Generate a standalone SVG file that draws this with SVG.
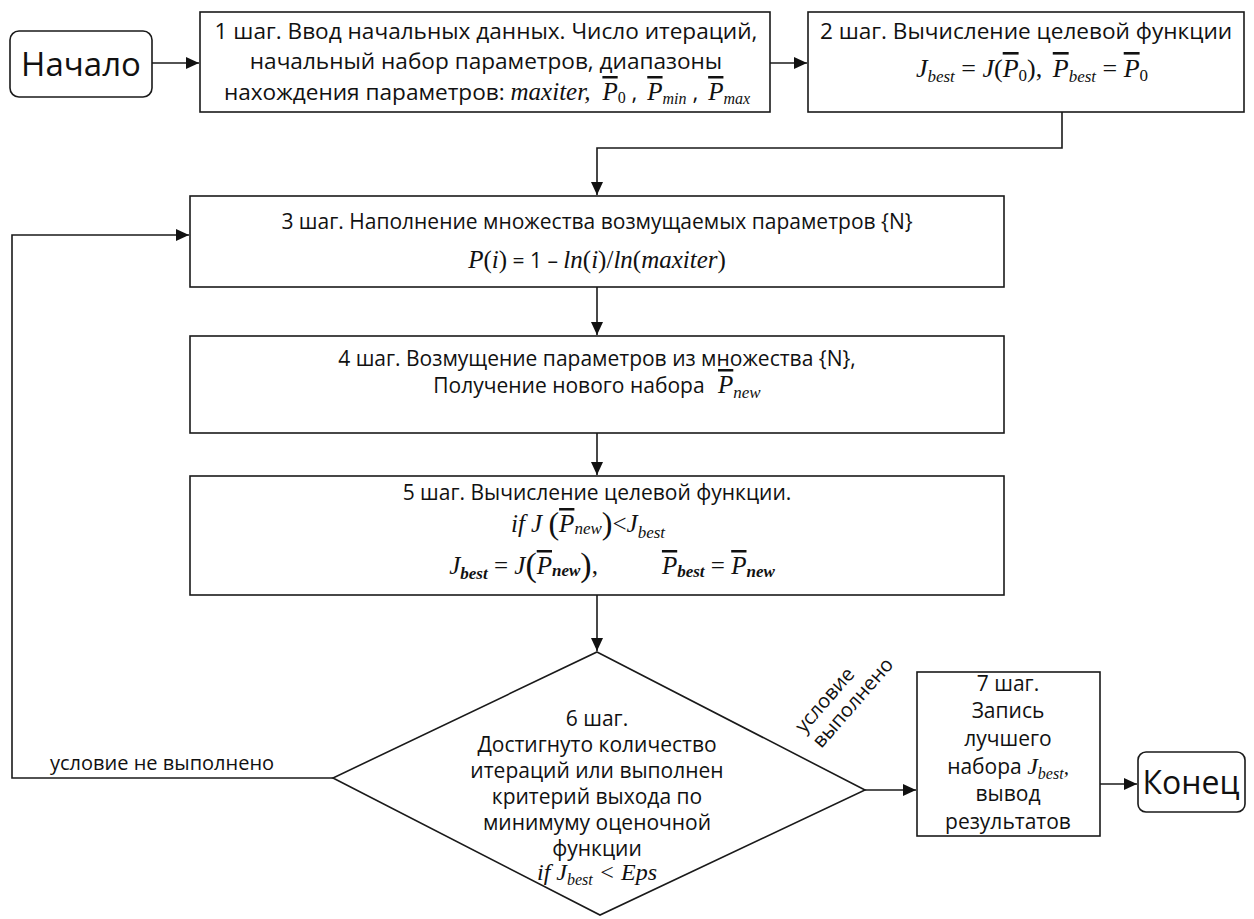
<svg xmlns="http://www.w3.org/2000/svg" width="1254" height="919" viewBox="0 0 1254 919">
<style>
.box{fill:#fff;stroke:#1a1a1a;stroke-width:1.6}
.t{font-family:"Open Sans","Liberation Sans",sans-serif;font-size:21px;fill:#111;text-anchor:middle}
.t2{font-size:22.6px}
.f{font-size:25px}
.big{font-family:"Open Sans","Liberation Sans",sans-serif;font-size:33px;fill:#111;text-anchor:middle}
.m{font-family:"Liberation Serif",serif;font-style:italic}
.r{font-family:"Liberation Serif",serif;font-style:normal}
.ov{text-decoration:overline}
.lbl{font-family:"Open Sans","Liberation Sans",sans-serif;font-size:20px;fill:#111}
.c{fill:none;stroke:#1a1a1a;stroke-width:1.6}
</style>
<defs>
<marker id="a" markerUnits="userSpaceOnUse" markerWidth="14" markerHeight="12" refX="13" refY="6" orient="auto">
<path d="M0,0 L13,6 L0,12 z" fill="#111"/>
</marker>
</defs>
<g id="connectors">
<path class="c" d="M152,63 H199" marker-end="url(#a)"/>
<path class="c" d="M770,63 H807" marker-end="url(#a)"/>
<path class="c" d="M1062,112 V148 H597 V195" marker-end="url(#a)"/>
<path class="c" d="M597,287 V335" marker-end="url(#a)"/>
<path class="c" d="M597,433 V475" marker-end="url(#a)"/>
<path class="c" d="M597,595 V651" marker-end="url(#a)"/>
<path class="c" d="M333,778 H12 V235 H189" marker-end="url(#a)"/>
<path class="c" d="M865,790 H916" marker-end="url(#a)"/>
<path class="c" d="M1100,784 H1137" marker-end="url(#a)"/>
<text class="lbl" x="50" y="770">условие не выполнено</text>
<g transform="translate(804,734) rotate(-49)">
<text class="lbl" x="0" y="0">условие</text>
<text class="lbl" x="0" y="23">выполнено</text>
</g>
</g>
<g id="start">
<rect class="box" x="10" y="31" width="142" height="66" rx="9"/>
<text class="big" x="81" y="76">Начало</text>
</g>
<g id="step1">
<rect class="box" x="200" y="12" width="570" height="100"/>
<text class="t t2" x="486" y="39">1 шаг. Ввод начальных данных. Число итераций,</text>
<text class="t t2" x="486" y="69">начальный набор параметров, диапазоны</text>
<text class="t t2" x="487" y="100">нахождения параметров: <tspan class="m" font-size="25">maxiter,</tspan><tspan class="m ov" font-size="25" dx="12">P</tspan><tspan class="r" font-size="16" dy="3">0</tspan><tspan dy="-3"> , </tspan><tspan class="m ov" font-size="25" dx="4">P</tspan><tspan class="m" font-size="16" dy="4">min</tspan><tspan dy="-4"> , </tspan><tspan class="m ov" font-size="25" dx="4">P</tspan><tspan class="m" font-size="16" dy="4">max</tspan></text>
</g>
<g id="step2">
<rect class="box" x="808" y="12" width="436" height="100"/>
<text class="t t2" x="1026" y="39">2 шаг. Вычисление целевой функции</text>
<text class="t" x="1032" y="77" style="font-size:26px"><tspan class="m">J</tspan><tspan class="m" font-size="17" dy="5">best</tspan><tspan class="r" dy="-5"> = </tspan><tspan class="m">J</tspan><tspan class="r">(</tspan><tspan class="m ov">P</tspan><tspan class="r" font-size="17" dy="4">0</tspan><tspan class="r" dy="-4">), </tspan><tspan class="m ov" dx="4">P</tspan><tspan class="m" font-size="17" dy="5">best</tspan><tspan class="r" dy="-5"> = </tspan><tspan class="m ov">P</tspan><tspan class="r" font-size="17" dy="4">0</tspan></text>
</g>
<g id="step3">
<rect class="box" x="190" y="196" width="814" height="91"/>
<text class="t" x="597" y="229">3 шаг.  Наполнение множества возмущаемых параметров {N}</text>
<text class="t" x="597" y="268"><tspan class="m f">P</tspan><tspan class="r f">(</tspan><tspan class="m f">i</tspan><tspan class="r f">)</tspan> = 1 – <tspan class="m f">ln</tspan><tspan class="r f">(</tspan><tspan class="m f">i</tspan><tspan class="r f">)/</tspan><tspan class="m f">ln</tspan><tspan class="r f">(</tspan><tspan class="m f">maxiter</tspan><tspan class="r f">)</tspan></text>
</g>
<g id="step4">
<rect class="box" x="190" y="336" width="814" height="97"/>
<text class="t" x="597" y="366">4 шаг.  Возмущение параметров из множества {N},</text>
<text class="t" x="597" y="393">Получение нового набора <tspan class="m ov f" dx="8">P</tspan><tspan class="m" font-size="17" dy="5">new</tspan></text>
</g>
<g id="step5">
<rect class="box" x="190" y="476" width="814" height="119"/>
<text class="t" x="597" y="500">5 шаг.  Вычисление целевой функции.</text>
<text class="t" x="588" y="532" style="font-size:25px"><tspan class="m">if  J </tspan><tspan class="r" font-size="32" dy="2">(</tspan><tspan class="m ov" dy="-2">P</tspan><tspan class="m" font-size="17" dy="2">new</tspan><tspan class="r" font-size="32">)</tspan><tspan class="r" dy="-2">&lt;</tspan><tspan class="m">J</tspan><tspan class="m" font-size="17" dy="6">best</tspan></text>
<text class="t" x="612" y="574" style="font-size:25px"><tspan class="m">J</tspan><tspan class="m" font-size="17" font-weight="bold" dy="5">best</tspan><tspan class="r" dy="-5"> = </tspan><tspan class="m">J</tspan><tspan class="r" font-size="34" dy="2">(</tspan><tspan class="m ov" dy="-2">P</tspan><tspan class="m" font-size="17" font-weight="bold" dy="2">new</tspan><tspan class="r" font-size="34">)</tspan><tspan class="r" dy="-2">,</tspan><tspan class="m ov" dx="64">P</tspan><tspan class="m" font-size="17" font-weight="bold" dy="3">best</tspan><tspan class="r" dy="-3"> = </tspan><tspan class="m ov">P</tspan><tspan class="m" font-size="17" font-weight="bold" dy="3">new</tspan></text>
</g>
<g id="step6">
<path class="box" d="M597,652 L865,790 L600,915 L333,778 Z"/>
<text class="t" x="597" y="726">6 шаг.</text>
<text class="t" x="597" y="752">Достигнуто количество</text>
<text class="t" x="597" y="778">итераций или выполнен</text>
<text class="t" x="597" y="804">критерий выхода по</text>
<text class="t" x="597" y="830">минимуму оценочной</text>
<text class="t" x="597" y="856">функции</text>
<text class="t" x="597" y="880"><tspan class="m" font-size="24">if  J</tspan><tspan class="m" font-size="16" dy="5">best</tspan><tspan class="m" font-size="24" dy="-5"> &lt; Eps</tspan></text>
</g>
<g id="step7">
<rect class="box" x="917" y="672" width="183" height="164"/>
<text class="t" x="1008" y="691">7 шаг.</text>
<text class="t" x="1008" y="718">Запись</text>
<text class="t" x="1008" y="746">лучшего</text>
<text class="t" x="1008" y="774">набора <tspan class="m" font-size="24">J</tspan><tspan class="m" font-size="16" dy="5">best</tspan><tspan class="m" dy="-5">,</tspan></text>
<text class="t" x="1008" y="801">вывод</text>
<text class="t" x="1008" y="829">результатов</text>
</g>
<g id="end">
<rect class="box" x="1138" y="752" width="107" height="60" rx="8"/>
<text class="big" x="1191" y="794" style="font-size:32px">Конец</text>
</g>
</svg>
